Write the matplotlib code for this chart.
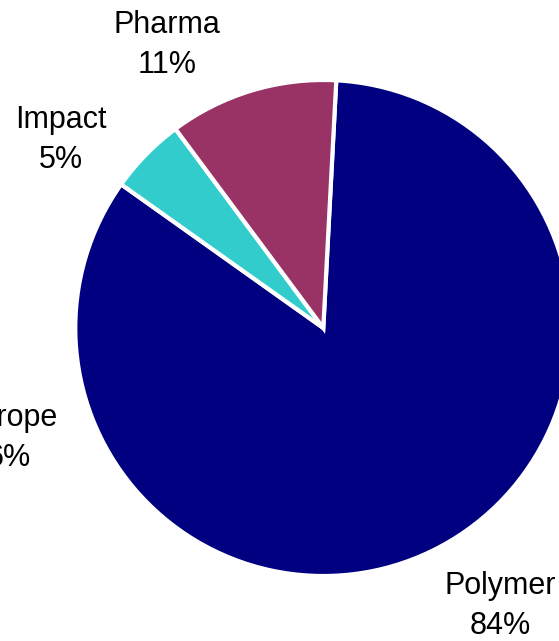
import matplotlib.pyplot as plt

# --- DATA ---
segments = ["Polymer", "Impact", "Pharma"]
shares = [84, 5, 11]
colors = ["#000080", "#33CCCC", "#993366"]

# label positions (data units, pie radius = 1)
label_pos = {"Polymer": (0.714, -1.12), "Impact": (-1.06, 0.758), "Pharma": (-0.629, 1.141)}

plt.rcParams['font.family'] = ['Liberation Sans', 'DejaVu Sans']

fig = plt.figure(figsize=(5.59, 6.41), dpi=100)
ax = fig.add_axes([0, 0, 1, 1])

ax.pie(shares, colors=colors, startangle=87, counterclock=False,
       radius=1, center=(0, 0),
       wedgeprops=dict(edgecolor="white", linewidth=3))

for name, val in zip(segments, shares):
    x, y = label_pos[name]
    ax.text(x, y, f"{name}\n{val}%", ha="center", va="center",
            fontsize=22, linespacing=1.45, color="black")

# leftover label from the neighbouring chart, cut by the edge
ax.text(-1.27, -0.444, "Europe\n6%", ha="center", va="center",
        fontsize=22, linespacing=1.45, color="black")

ax.set_xlim(-323.3 / 248, (559 - 323.3) / 248)
ax.set_ylim(-(641 - 328) / 248, 328 / 248)
ax.set_aspect("auto")
ax.axis("off")

fig.savefig("out.png", dpi=100)
